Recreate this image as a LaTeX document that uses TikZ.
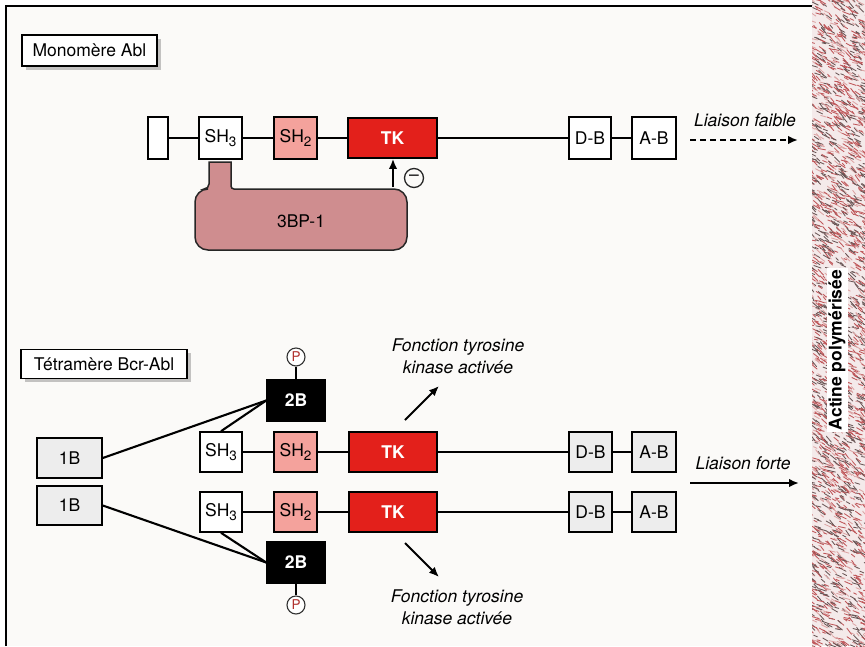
\documentclass[tikz,border=0pt]{standalone}
\usepackage{fontspec}
\setmainfont{TeX Gyre Heros}
\usetikzlibrary{arrows.meta,shadows}

\definecolor{paper}{HTML}{FBFAF8}
\definecolor{tkred}{HTML}{E3201B}
\definecolor{shpink}{HTML}{F4A29C}
\definecolor{bpfill}{HTML}{CF8D8F}
\definecolor{greybox}{HTML}{EDEDED}
\definecolor{actinbg}{HTML}{F4EAEA}
\definecolor{actindark}{HTML}{6A5656}
\definecolor{actinred}{HTML}{BF5659}
\definecolor{actinpink}{HTML}{DCA4A4}
\definecolor{pred}{HTML}{B0302C}

\newcommand\dgfont{\fontsize{17.5}{20}\selectfont}
\newcommand\subn[1]{\raisebox{-0.4ex}{\fontsize{13.5}{13.5}\selectfont #1}}

\begin{document}
\begin{tikzpicture}[x=1pt,y=-1pt,
  dom/.style={draw=black, line width=1.6pt, inner sep=0pt, font=\dgfont},
  plain/.style={dom, fill=white},
  grey/.style={dom, fill=greybox},
  sh2/.style={dom, fill=shpink},
  tk/.style={dom, fill=tkred, text=white, font=\dgfont\bfseries},
  twob/.style={dom, fill=black, text=white, font=\dgfont\bfseries},
  tag/.style={draw=black, line width=1.6pt, fill=white, inner sep=0pt, font=\dgfont,
    drop shadow={shadow xshift=3.5pt, shadow yshift=-3.5pt, fill=black!45}},
  phos/.style={circle, draw=black!80, line width=1.1pt, fill=white, minimum size=18pt,
    inner sep=0pt, text=pred, font=\fontsize{13.5}{13.5}\selectfont},
  note/.style={font=\dgfont\itshape, align=center, inner sep=0pt},
  link/.style={line width=2.1pt},
  arr/.style={line width=2pt, -{Latex[length=10pt,width=8.5pt]}}]

\useasboundingbox (0,0) rectangle (865,646);

% paper and frame
\fill[paper] (6,6) rectangle (865,646);
\draw[line width=1.4pt] (6,646) -- (6,6) -- (865,6);

% polymerised actin band
\begin{scope}
  \clip (812,0) rectangle (865,646);
  \fill[actinbg] (812,0) rectangle (865,646);
  \pgfmathsetseed{7}
  \foreach \i in {1,...,2600}{
    \pgfmathsetmacro\xx{808+60*rnd}
    \pgfmathsetmacro\yy{-4+654*rnd}
    \pgfmathsetmacro\aa{10+45*rnd}
    \pgfmathsetmacro\ll{3+5*rnd}
    \pgfmathsetmacro\cc{rnd}
    \ifdim\cc pt<0.38pt \def\col{actindark}\else
      \ifdim\cc pt<0.78pt \def\col{actinred}\else\def\col{actinpink}\fi\fi
    \draw[\col, line width=0.85pt, line cap=round] (\xx,\yy) -- ++(\aa:\ll);
  }
\end{scope}
\node[fill=white, rotate=90, inner sep=2pt, font=\dgfont\bfseries] (actin) at (837,350) {Actine polymérisée};

% ---------- Abl monomer ----------
\node[tag, minimum width=135pt, minimum height=31pt] (mono) at (89.5,50.5) {Monomère Abl};

\node[plain, minimum width=20pt, minimum height=42pt] (n0) at (158,138) {};
\node[plain, minimum width=43pt, minimum height=42pt] (sh3a) at (220.5,138) {SH\subn{3}};
\node[sh2, minimum width=43pt, minimum height=42pt] (sh2a) at (295.5,138) {SH\subn{2}};
\node[tk, minimum width=89pt, minimum height=40pt] (tka) at (392.5,138) {TK};
\node[plain, minimum width=42pt, minimum height=42pt] (dba) at (590,138) {D-B};
\node[plain, minimum width=44pt, minimum height=42pt] (aba) at (654,138) {A-B};
\draw[link] (n0) -- (sh3a) (sh3a) -- (sh2a) (sh2a) -- (tka) (tka) -- (dba) (dba) -- (aba);

% 3BP-1 bound to SH3
\filldraw[fill=bpfill, draw=black!85, line width=1.5pt]
  (231,162) -- (209,162) [rounded corners=5pt] -- (209,189) [rounded corners=13pt] -- (195,189)
  -- (195,250) -- (407,250) -- (407,189) [rounded corners=3pt] -- (231,189) [sharp corners] -- cycle;
\node[font=\dgfont, inner sep=0pt] (bp) at (301,221) {3BP-1};

\coordinate (inh) at (393,187);
\draw[arr] (inh) -- (tka.south -| inh);
\node[circle, draw=black!85, line width=1.3pt, minimum size=19pt, inner sep=0pt, font=\dgfont] (minus) at (414,178) {\textendash};

\node[note] (faible) at (745,120) {Liaison faible};
\coordinate (fs) at (690,140);
\coordinate (fe) at (798,140);
\draw[arr, dash pattern=on 6pt off 4pt] (fs) -- (fe);

% ---------- Bcr-Abl tetramer ----------
\node[tag, minimum width=166pt, minimum height=29pt] (tetra) at (104,364) {Tétramère Bcr-Abl};

\node[grey, minimum width=65pt, minimum height=40pt] (b1u) at (69.5,458) {1B};
\node[grey, minimum width=65pt, minimum height=39pt] (b1l) at (69.5,505.5) {1B};

\node[twob, minimum width=58pt, minimum height=41pt] (b2u) at (296,400.5) {2B};
\node[twob, minimum width=58pt, minimum height=41pt] (b2l) at (296,562.5) {2B};
\node[phos] (pu) at (296,357) {P};
\node[phos] (pl) at (296,605) {P};
\draw[line width=1.2pt] (b2u.north) -- (pu.south);
\draw[line width=1.2pt] (b2l.south) -- (pl.north);

\foreach \r/\yc in {u/452, l/512}{
  \node[plain, minimum width=42pt, minimum height=40pt] (sh3\r) at (221,\yc) {SH\subn{3}};
  \node[sh2, minimum width=43pt, minimum height=40pt] (sh2\r) at (295.5,\yc) {SH\subn{2}};
  \node[tk, minimum width=88pt, minimum height=40pt] (tk\r) at (393,\yc) {TK};
  \node[grey, minimum width=43pt, minimum height=40pt] (db\r) at (590.5,\yc) {D-B};
  \node[grey, minimum width=44pt, minimum height=40pt] (ab\r) at (654,\yc) {A-B};
  \draw[link] (sh3\r) -- (sh2\r) (sh2\r) -- (tk\r) (tk\r) -- (db\r) (db\r) -- (ab\r);
}

\draw[link] (b1u.east) -- (b2u.west);
\draw[link] (sh3u.north) -- (b2u.west);
\draw[link] (b1l.east) -- (b2l.west);
\draw[link] (sh3l.south) -- (b2l.west);

% activated kinase function
\node[note] (fonc1) at (458,356) {Fonction tyrosine\\[2pt]kinase activée};
\node[note] (fonc2) at (457,607) {Fonction tyrosine\\[2pt]kinase activée};
\coordinate (a1s) at (405,420);
\coordinate (a1e) at (439,386);
\coordinate (a2s) at (405,543);
\coordinate (a2e) at (439,577);
\draw[arr] (a1s) -- (a1e);
\draw[arr] (a2s) -- (a2e);

\node[note] (forte) at (743,463) {Liaison forte};
\coordinate (ls) at (690,483);
\coordinate (le) at (799,483);
\draw[arr] (ls) -- (le);

\end{tikzpicture}
\end{document}
